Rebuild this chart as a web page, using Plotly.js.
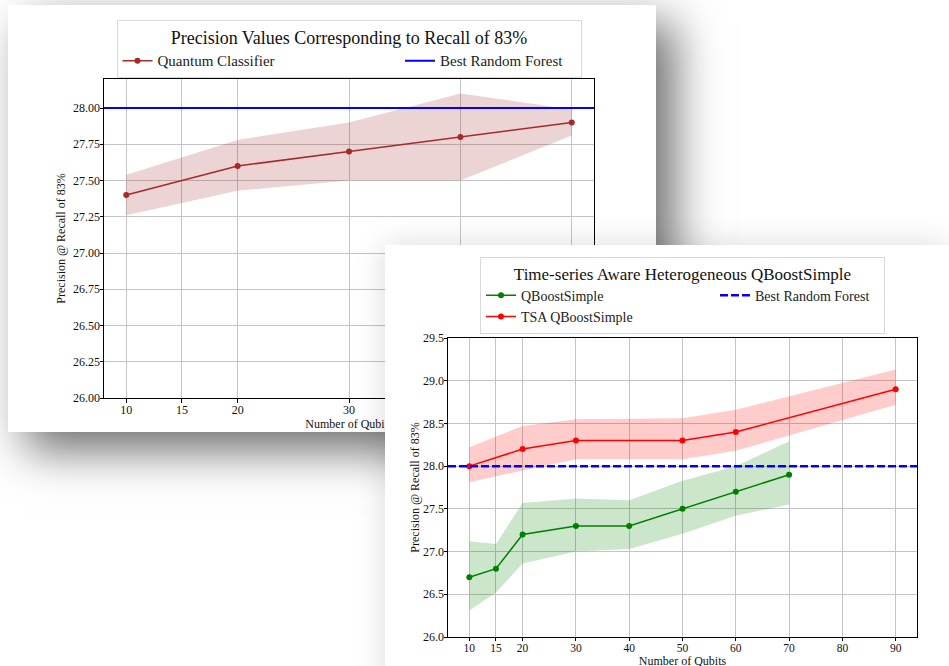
<!DOCTYPE html>
<html><head><meta charset="utf-8">
<script src="https://cdn.plot.ly/plotly-3.0.1.min.js"></script>
<style>
html,body{margin:0;padding:0;background:#fff;width:949px;height:666px;overflow:hidden;}
#c1{position:absolute;left:8px;top:5px;width:648px;height:427px;background:#fff;box-shadow:18px 18px 44px rgba(0,0,0,0.58);z-index:1;}
#c2{position:absolute;left:385px;top:245px;width:564px;height:440px;background:#fff;box-shadow:0 0 30px rgba(0,0,0,0.15);z-index:2;}
</style></head><body>
<div id="c1"></div><div id="c2"></div>
<script>
// ---------- Chart 1 data ----------
const qubits1 = [10, 20, 30, 40, 50];
const quantumPrec = [27.4, 27.6, 27.7, 27.8, 27.9];
const quantumLow = [27.26, 27.43, 27.50, 27.50, 27.81];
const quantumHigh = [27.54, 27.78, 27.90, 28.10, 27.99];
const bestRF1 = 28.0;
const xTicks1 = [10, 15, 20, 30, 40, 50];
const yTicks1 = [26.00, 26.25, 26.50, 26.75, 27.00, 27.25, 27.50, 27.75, 28.00];
const title1 = 'Precision Values Corresponding to Recall of 83%';
const seriesNames1 = ['Quantum Classifier', 'Best Random Forest'];

// ---------- Chart 2 data ----------
const qubitsQB = [10, 15, 20, 30, 40, 50, 60, 70];
const qbPrec = [26.7, 26.8, 27.2, 27.3, 27.3, 27.5, 27.7, 27.9];
const qbLow = [26.31, 26.52, 26.86, 27.00, 27.03, 27.21, 27.42, 27.55];
const qbHigh = [27.12, 27.09, 27.57, 27.62, 27.60, 27.83, 28.00, 28.29];
const qubitsTSA = [10, 20, 30, 50, 60, 90];
const tsaPrec = [28.0, 28.2, 28.3, 28.3, 28.4, 28.9];
const tsaLow = [27.81, 27.95, 28.08, 28.08, 28.18, 28.72];
const tsaHigh = [28.22, 28.47, 28.55, 28.56, 28.66, 29.13];
const bestRF2 = 28.0;
const xTicks2 = [10, 15, 20, 30, 40, 50, 60, 70, 80, 90];
const yTicks2 = [26.0, 26.5, 27.0, 27.5, 28.0, 28.5, 29.0, 29.5];
const title2 = 'Time-series Aware Heterogeneous QBoostSimple';
const seriesNames2 = ['QBoostSimple', 'TSA QBoostSimple', 'Best Random Forest'];

const xLabel = 'Number of Qubits';
const yLabel = 'Precision @ Recall of 83%';

const FONT = '"Liberation Serif", "Times New Roman", serif';

function axisBase(extra) {
  return Object.assign({
    showline: true, mirror: true, linecolor: '#000', linewidth: 1,
    ticks: 'outside', ticklen: 3.5, tickwidth: 1, tickcolor: '#000',
    ticklabelstandoff: -3,
    showgrid: true, gridcolor: '#c4c4c4', gridwidth: 1, zeroline: false,
    tickfont: {family: FONT, size: 12, color: '#111'}, automargin: false
  }, extra);
}

// ---------- Chart 1 ----------
const t1 = [
  {x: qubits1, y: quantumLow, mode: 'lines', line: {width: 0, color: 'rgba(0,0,0,0)'}, showlegend: false, hoverinfo: 'skip'},
  {x: qubits1, y: quantumHigh, mode: 'lines', fill: 'tonexty', fillcolor: 'rgba(165,42,42,0.2)', line: {width: 0, color: 'rgba(0,0,0,0)'}, showlegend: false, hoverinfo: 'skip'},
  {x: qubits1, y: quantumPrec, mode: 'lines+markers', name: seriesNames1[0],
   line: {color: '#a52a2a', width: 1.5}, marker: {color: '#a52a2a', size: 6}, legendrank: 1, legendwidth: 237.5}
];
const l1 = {
  width: 648, height: 427,
  margin: {l: 96, r: 62, t: 74, b: 34},
  paper_bgcolor: '#fff', plot_bgcolor: '#fff',
  font: {family: FONT, color: '#111'},
  showlegend: true,
  legend: {orientation: 'h', traceorder: 'normal', x: 0.5, xanchor: 'center', y: 1.185, yanchor: 'top',
    bgcolor: '#fff', bordercolor: '#d9d9d9', borderwidth: 1,
    font: {family: FONT, size: 15, color: '#222'},
    title: {text: title1, side: 'top center', font: {family: FONT, size: 18, color: '#111'}}},
  xaxis: axisBase({range: [8, 52], tickvals: xTicks1, title: {text: xLabel, font: {family: FONT, size: 12, color: '#111'}, standoff: 3}}),
  yaxis: axisBase({range: [26, 28.2], tickvals: yTicks1, tickformat: '.2f', title: {text: yLabel, font: {family: FONT, size: 12, color: '#111'}, standoff: 4}}),
  shapes: [
    {type: 'line', xref: 'x domain', x0: 0, x1: 1, yref: 'y', y0: bestRF1, y1: bestRF1,
     line: {color: '#0000ff', width: 2}, layer: 'above', name: seriesNames1[1], showlegend: true, legendrank: 2, legendwidth: 135}
  ]
};

// ---------- Chart 2 ----------
const t2 = [
  {x: qubitsQB, y: qbLow, mode: 'lines', line: {width: 0, color: 'rgba(0,0,0,0)'}, showlegend: false, hoverinfo: 'skip'},
  {x: qubitsQB, y: qbHigh, mode: 'lines', fill: 'tonexty', fillcolor: 'rgba(0,128,0,0.2)', line: {width: 0, color: 'rgba(0,0,0,0)'}, showlegend: false, hoverinfo: 'skip'},
  {x: qubitsTSA, y: tsaLow, mode: 'lines', line: {width: 0, color: 'rgba(0,0,0,0)'}, showlegend: false, hoverinfo: 'skip'},
  {x: qubitsTSA, y: tsaHigh, mode: 'lines', fill: 'tonexty', fillcolor: 'rgba(255,0,0,0.2)', line: {width: 0, color: 'rgba(0,0,0,0)'}, showlegend: false, hoverinfo: 'skip'},
  {x: qubitsQB, y: qbPrec, mode: 'lines+markers', name: seriesNames2[0],
   line: {color: '#008000', width: 1.5}, marker: {color: '#008000', size: 6}, legendrank: 1, legendwidth: 189},
  {x: qubitsTSA, y: tsaPrec, mode: 'lines+markers', name: seriesNames2[1],
   line: {color: '#ff0000', width: 1.5}, marker: {color: '#ff0000', size: 6}, legendrank: 3}
];
const l2 = {
  width: 564, height: 440,
  margin: {l: 63, r: 32, t: 88, b: 48},
  paper_bgcolor: '#fff', plot_bgcolor: '#fff',
  font: {family: FONT, color: '#111'},
  showlegend: true,
  legend: {orientation: 'h', traceorder: 'normal', x: 0.5, xanchor: 'center', y: 1.272, yanchor: 'top',
    bgcolor: '#fff', bordercolor: '#d9d9d9', borderwidth: 1,
    font: {family: FONT, size: 14, color: '#222'},
    title: {text: title2, side: 'top center', font: {family: FONT, size: 17, color: '#111'}}},
  xaxis: axisBase({range: [6, 94], tickvals: xTicks2, ticklen: 3,
    tickfont: {family: FONT, size: 11.5, color: '#111'},
    title: {text: xLabel, font: {family: FONT, size: 12, color: '#111'}, standoff: 2}}),
  yaxis: axisBase({range: [26, 29.5], tickvals: yTicks2, tickformat: '.1f', title: {text: yLabel, font: {family: FONT, size: 12, color: '#111'}, standoff: 0}}),
  shapes: [
    {type: 'line', xref: 'x domain', x0: 0, x1: 1, yref: 'y', y0: bestRF2, y1: bestRF2,
     line: {color: '#0000ff', width: 2.5, dash: '8px,3px'}, layer: 'above', name: seriesNames2[2], showlegend: true, legendrank: 2, legendwidth: 124}
  ]
};

Plotly.newPlot('c1', t1, l1, {displayModeBar: false, staticPlot: true});
Plotly.newPlot('c2', t2, l2, {displayModeBar: false, staticPlot: true});
</script>
</body></html>
